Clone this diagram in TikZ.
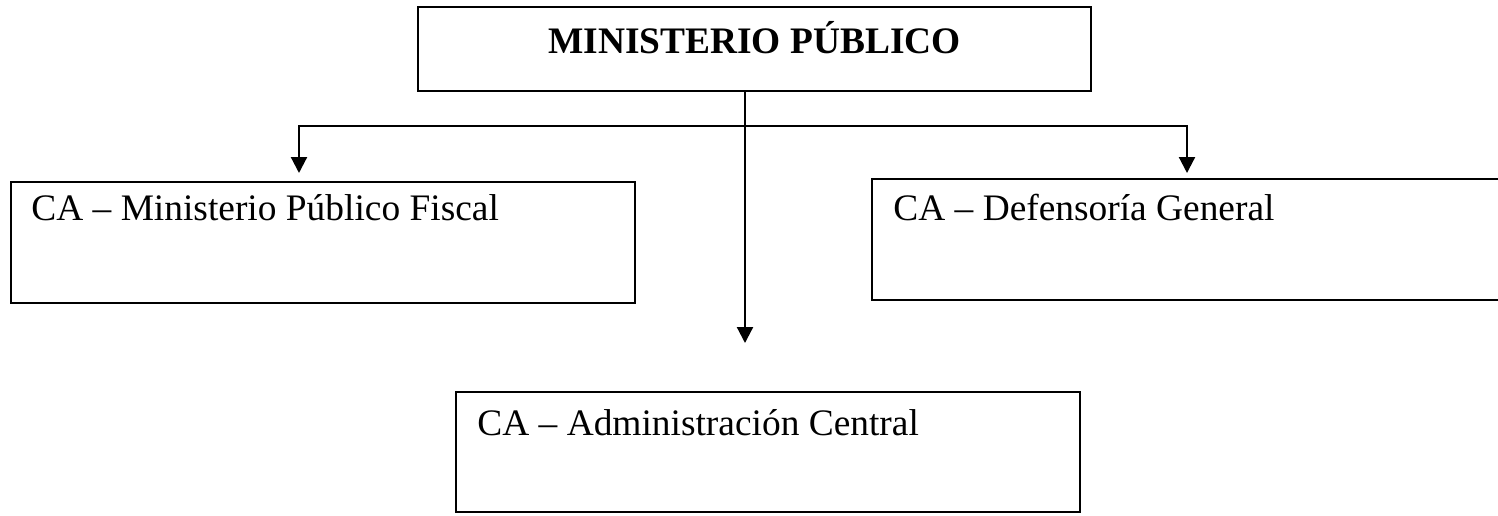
\documentclass[tikz,border=0pt]{standalone}
\usepackage{fontspec}
\setmainfont{Liberation Serif}
\usetikzlibrary{arrows.meta,fit}

\tikzset{
  cabox/.style={draw, line width=1.1pt, inner sep=0pt},
  catext/.style={anchor=base west, inner sep=0pt, font=\fontsize{18.7}{22}\selectfont},
  orgarrow/.style={line width=1.1pt, -{Triangle[length=8pt,width=8pt]}}
}

\begin{document}
\begin{tikzpicture}[x=0.5pt,y=0.5pt,yscale=-1,xscale=1]
\useasboundingbox (0,0) rectangle (1498,515);

% Boxes
\node[cabox, fit={(418,7) (1091,91)}] (mp) {};
\node[cabox, fit={(11,182) (635,303)}] (fiscal) {};
\node[cabox, fit={(872,179) (1506,300)}] (defensa) {};
\node[cabox, fit={(456,392) (1080,512)}] (admin) {};

% Text Node
\node[catext, anchor=base, font=\fontsize{18.7}{22}\selectfont\bfseries] (mptext) at (754.5,53) {MINISTERIO PÚBLICO};
% Text Node
\node[catext] (fiscaltext) at (31,220) {CA – Ministerio Público Fiscal};
% Text Node
\node[catext] (defensatext) at (893,220) {CA – Defensoría General};
% Text Node
\node[catext] (admintext) at (477,435) {CA – Administración Central};

% Connectors
\coordinate (split) at (745,126);
\coordinate (fiscaltip) at (299,173);
\coordinate (defensatip) at (1187,173);
\coordinate (admintip) at (745,343);
\draw[orgarrow] (mp.south -| split) -- (admintip);
\draw[orgarrow] (split) -| (fiscaltip);
\draw[orgarrow] (split) -| (defensatip);

\end{tikzpicture}
\end{document}
